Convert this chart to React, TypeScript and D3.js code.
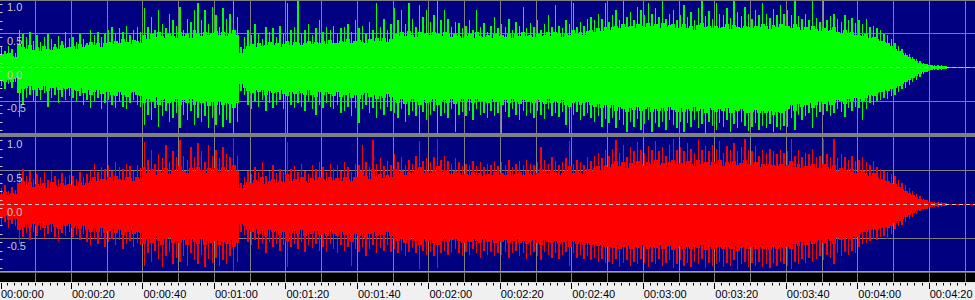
import React from 'react';
import * as d3 from 'd3';

// Amplitudes in percent of full scale, one value per second of audio.
// Peak (thin spike) extremes per second
const leftPeakHi = [
  30, 25, 32, 28, 22, 55, 50, 45, 52, 40,
  48, 38, 45, 50, 42, 35, 47, 40, 52, 44,
  45, 38, 50, 42, 36, 55, 48, 52, 45, 50,
  55, 60, 50, 58, 52, 62, 48, 56, 60, 52,
  88, 60, 75, 55, 85, 65, 58, 80, 70, 62,
  90, 55, 72, 68, 85, 95, 70, 85, 65, 90,
  78, 60, 88, 72, 80, 98, 75, 30, 45, 55,
  48, 65, 50, 42, 60, 52, 58, 45, 62, 50,
  96, 55, 60, 98, 50, 55, 65, 48, 58, 70,
  52, 60, 55, 62, 50, 58, 60, 65, 52, 70,
  58, 62, 50, 68, 55, 95, 60, 72, 55, 65,
  88, 70, 85, 65, 95, 72, 60, 92, 75, 85,
  68, 78, 98, 70, 85, 72, 60, 68, 66, 58,
  62, 70, 55, 85, 60, 66, 52, 62, 75, 58,
  64, 60, 72, 56, 68, 62, 90, 58, 66, 60,
  70, 55, 64, 78, 60, 92, 62, 58, 70, 64,
  95, 60, 68, 62, 72, 75, 70, 80, 72, 95,
  68, 78, 85, 70, 98, 75, 82, 70, 90, 85,
  78, 95, 80, 88, 75, 98, 72, 80, 85, 70,
  78, 92, 75, 82, 70, 88, 98, 76, 84, 72,
  95, 80, 78, 88, 74, 98, 82, 76, 90, 80,
  72, 85, 78, 95, 80, 74, 86, 78, 92, 80,
  85, 78, 98, 76, 72, 80, 70, 98, 74, 68,
  98, 70, 76, 80, 72, 68, 78, 70, 74, 66,
  70, 65, 72, 60, 62, 58, 55, 50, 48, 42,
  36, 32, 28, 22, 20, 16, 12, 10, 7, 5,
  4, 3, 3, 3, 2,
];
const leftPeakLo = [
  -28, -32, -25, -30, -22, -73, -55, -45, -40, -50,
  -42, -48, -38, -58, -45, -40, -52, -44, -48, -42,
  -45, -50, -42, -55, -48, -60, -50, -45, -62, -52,
  -48, -55, -60, -50, -58, -62, -52, -48, -55, -58,
  -85, -70, -78, -60, -88, -72, -65, -80, -75, -68,
  -90, -70, -78, -65, -85, -75, -80, -72, -90, -75,
  -85, -70, -88, -78, -82, -98, -80, -35, -40, -55,
  -62, -50, -58, -48, -65, -52, -60, -55, -48, -62,
  -97, -55, -60, -52, -58, -65, -50, -62, -70, -55,
  -60, -52, -58, -62, -55, -68, -65, -58, -72, -60,
  -82, -62, -55, -68, -60, -75, -62, -70, -58, -65,
  -68, -75, -62, -80, -70, -65, -72, -97, -66, -78,
  -70, -64, -97, -72, -68, -75, -62, -96, -70, -66,
  -72, -65, -78, -62, -70, -68, -75, -64, -72, -68,
  -97, -66, -74, -62, -70, -78, -65, -72, -68, -75,
  -64, -70, -76, -62, -72, -68, -74, -66, -85, -97,
  -70, -66, -78, -72, -68, -75, -80, -72, -88, -76,
  -82, -75, -90, -78, -85, -95, -80, -88, -76, -92,
  -84, -78, -96, -82, -88, -80, -92, -78, -85, -90,
  -80, -95, -82, -88, -78, -90, -84, -97, -80, -86,
  -92, -82, -88, -78, -96, -84, -90, -80, -86, -94,
  -88, -82, -92, -86, -90, -84, -96, -88, -92, -86,
  -88, -75, -92, -70, -78, -72, -68, -90, -74, -66,
  -70, -64, -72, -68, -62, -66, -74, -60, -64, -58,
  -60, -78, -62, -52, -55, -50, -48, -45, -46, -42,
  -40, -36, -32, -30, -26, -22, -18, -14, -10, -7,
  -4, -3.5, -3, -3, -2,
];
const rightPeakHi = [
  25, 28, 20, 26, 22, 48, 52, 42, 50, 38,
  45, 40, 48, 36, 50, 42, 38, 46, 40, 44,
  42, 38, 48, 40, 45, 50, 60, 48, 55, 52,
  58, 50, 62, 55, 52, 60, 56, 50, 58, 54,
  92, 65, 80, 60, 75, 68, 88, 62, 78, 70,
  95, 72, 65, 85, 70, 90, 78, 62, 88, 72,
  80, 68, 85, 74, 70, 98, 72, 32, 40, 50,
  45, 55, 48, 62, 42, 50, 58, 46, 52, 48,
  92, 52, 56, 48, 60, 50, 45, 58, 52, 62,
  55, 48, 60, 52, 58, 50, 62, 55, 48, 60,
  58, 88, 62, 55, 95, 60, 68, 56, 64, 58,
  75, 62, 70, 58, 66, 60, 72, 94, 64, 68,
  62, 70, 96, 66, 72, 64, 60, 68, 62, 56,
  60, 58, 64, 56, 62, 55, 60, 58, 64, 56,
  62, 58, 66, 55, 60, 64, 58, 66, 60, 58,
  62, 84, 66, 60, 70, 64, 58, 62, 68, 94,
  60, 66, 62, 58, 70, 64, 72, 76, 68, 80,
  72, 82, 95, 76, 88, 70, 84, 78, 92, 80,
  76, 86, 80, 94, 78, 84, 72, 88, 96, 80,
  84, 78, 90, 82, 76, 95, 80, 86, 78, 88,
  82, 94, 76, 86, 80, 90, 78, 84, 96, 80,
  78, 86, 72, 80, 76, 82, 78, 74, 80, 76,
  78, 96, 72, 80, 70, 76, 74, 82, 70, 72,
  96, 74, 70, 97, 68, 74, 70, 66, 72, 64,
  66, 70, 62, 58, 64, 55, 52, 50, 48, 45,
  42, 36, 32, 28, 24, 20, 15, 12, 8, 6,
  4, 4, 3, 3, 2,
];
const rightPeakLo = [
  -30, -25, -34, -28, -32, -58, -48, -42, -52, -40,
  -46, -38, -50, -44, -40, -48, -53, -42, -46, -40,
  -48, -45, -52, -44, -55, -60, -50, -58, -48, -62,
  -55, -50, -60, -52, -65, -58, -54, -62, -56, -60,
  -90, -72, -85, -68, -80, -92, -75, -70, -88, -78,
  -84, -76, -90, -72, -82, -88, -74, -92, -80, -86,
  -78, -90, -82, -88, -76, -98, -84, -40, -45, -55,
  -60, -52, -65, -58, -72, -55, -62, -58, -68, -60,
  -92, -62, -58, -66, -55, -70, -60, -64, -58, -68,
  -62, -70, -58, -66, -72, -60, -68, -62, -90, -65,
  -70, -62, -75, -66, -60, -72, -64, -68, -60, -70,
  -66, -72, -68, -75, -70, -64, -72, -95, -68, -74,
  -70, -76, -94, -72, -68, -74, -70, -66, -72, -76,
  -70, -74, -66, -72, -78, -68, -74, -70, -76, -72,
  -74, -70, -78, -72, -68, -76, -72, -80, -74, -70,
  -76, -82, -70, -74, -78, -72, -80, -74, -70, -90,
  -72, -78, -74, -80, -76, -82, -78, -84, -80, -86,
  -84, -88, -80, -92, -86, -82, -90, -84, -88, -80,
  -86, -92, -84, -88, -80, -90, -86, -82, -94, -88,
  -82, -90, -86, -92, -84, -88, -80, -94, -86, -90,
  -88, -84, -92, -86, -90, -82, -96, -88, -84, -92,
  -86, -90, -84, -92, -88, -94, -86, -90, -84, -88,
  -90, -95, -84, -88, -80, -86, -78, -84, -80, -76,
  -82, -74, -78, -88, -72, -76, -70, -74, -68, -72,
  -62, -58, -56, -54, -50, -52, -48, -46, -50, -44,
  -36, -32, -30, -26, -22, -18, -14, -10, -8, -6,
  -4, -4, -3, -3, -2,
];

// Dense body of the waveform per second
const leftBodyHi = [
  18, 20, 22, 17, 15, 35, 30, 28, 34, 26,
  30, 25, 32, 28, 26, 30, 27, 33, 29, 31,
  32, 28, 35, 30, 33, 38, 34, 36, 31, 37,
  38, 35, 40, 36, 42, 38, 35, 41, 39, 36,
  48, 42, 50, 45, 52, 46, 44, 50, 47, 43,
  52, 46, 50, 44, 55, 50, 47, 53, 48, 51,
  54, 48, 52, 46, 50, 56, 48, 22, 28, 32,
  35, 30, 36, 32, 34, 38, 33, 36, 31, 35,
  40, 34, 38, 36, 33, 37, 40, 35, 38, 36,
  39, 35, 41, 37, 36, 40, 38, 42, 37, 40,
  41, 38, 36, 42, 39, 44, 40, 43, 38, 42,
  50, 46, 52, 47, 54, 48, 45, 52, 49, 51,
  48, 52, 50, 46, 53, 49, 45, 50, 47, 44,
  46, 50, 44, 52, 47, 45, 48, 43, 50, 46,
  48, 45, 50, 44, 49, 47, 52, 46, 48, 45,
  50, 46, 48, 52, 47, 53, 49, 45, 50, 48,
  55, 50, 52, 48, 54, 56, 52, 58, 54, 60,
  56, 60, 62, 58, 64, 60, 62, 58, 65, 62,
  60, 66, 62, 64, 58, 66, 60, 63, 65, 58,
  60, 64, 58, 62, 56, 63, 66, 60, 62, 58,
  62, 58, 60, 64, 57, 63, 60, 58, 62, 60,
  58, 62, 60, 64, 61, 57, 63, 60, 65, 61,
  62, 58, 64, 60, 56, 60, 55, 62, 57, 54,
  58, 54, 56, 60, 53, 50, 55, 51, 52, 48,
  48, 46, 50, 44, 45, 42, 40, 38, 36, 32,
  28, 25, 22, 18, 15, 12, 9, 7, 5, 4,
  3, 2.5, 2.5, 2, 1.5,
];
const leftBodyLo = [
  -20, -22, -18, -21, -16, -38, -32, -30, -28, -34,
  -30, -33, -28, -35, -31, -29, -34, -30, -32, -30,
  -33, -35, -31, -38, -34, -40, -36, -33, -39, -36,
  -36, -40, -42, -37, -41, -44, -38, -36, -40, -42,
  -52, -46, -50, -44, -55, -48, -46, -52, -50, -47,
  -55, -48, -52, -47, -56, -50, -53, -49, -57, -51,
  -56, -50, -55, -52, -54, -60, -52, -25, -30, -35,
  -38, -34, -37, -33, -40, -35, -38, -36, -34, -39,
  -42, -36, -39, -35, -38, -41, -34, -40, -43, -37,
  -40, -36, -39, -42, -37, -44, -41, -38, -45, -40,
  -46, -41, -38, -44, -40, -47, -42, -45, -39, -43,
  -48, -52, -46, -54, -49, -47, -51, -56, -48, -53,
  -50, -47, -55, -50, -48, -52, -46, -54, -50, -47,
  -51, -47, -53, -46, -50, -49, -52, -47, -51, -49,
  -55, -48, -52, -46, -50, -54, -48, -51, -49, -53,
  -48, -51, -54, -47, -52, -50, -53, -48, -56, -58,
  -52, -50, -56, -53, -51, -55, -58, -54, -60, -56,
  -60, -56, -64, -58, -62, -66, -60, -63, -58, -65,
  -62, -58, -66, -61, -64, -60, -65, -59, -63, -66,
  -60, -66, -62, -64, -59, -65, -62, -67, -60, -63,
  -66, -62, -64, -60, -67, -63, -65, -61, -64, -68,
  -66, -63, -68, -65, -67, -64, -70, -66, -68, -65,
  -62, -56, -64, -54, -58, -55, -52, -60, -55, -50,
  -54, -50, -55, -52, -48, -50, -54, -47, -49, -45,
  -46, -50, -45, -40, -42, -38, -36, -34, -35, -32,
  -30, -27, -24, -22, -19, -16, -13, -10, -7, -5,
  -3, -2.5, -2.5, -2, -1.5,
];
const rightBodyHi = [
  16, 18, 14, 17, 15, 32, 34, 28, 33, 26,
  30, 27, 32, 25, 33, 29, 26, 31, 28, 30,
  29, 27, 33, 28, 31, 35, 40, 34, 38, 36,
  40, 35, 42, 38, 36, 41, 39, 35, 40, 38,
  55, 46, 52, 44, 50, 47, 54, 45, 51, 48,
  56, 50, 47, 54, 49, 55, 51, 46, 54, 50,
  53, 48, 55, 50, 49, 58, 50, 24, 28, 33,
  31, 36, 33, 40, 30, 34, 38, 32, 35, 33,
  45, 35, 38, 33, 40, 35, 32, 39, 36, 41,
  38, 34, 40, 36, 39, 35, 41, 38, 34, 40,
  40, 50, 42, 38, 52, 41, 45, 39, 43, 40,
  52, 45, 50, 44, 48, 45, 51, 55, 47, 49,
  46, 50, 56, 48, 51, 47, 45, 49, 46, 43,
  45, 44, 48, 43, 46, 42, 45, 44, 48, 43,
  46, 44, 49, 42, 45, 48, 44, 49, 45, 44,
  46, 52, 49, 45, 51, 48, 44, 46, 50, 56,
  46, 50, 47, 45, 52, 49, 53, 56, 51, 58,
  55, 60, 64, 57, 62, 54, 61, 58, 64, 59,
  57, 62, 59, 65, 58, 61, 55, 63, 66, 59,
  61, 58, 64, 60, 57, 66, 59, 62, 58, 63,
  60, 65, 57, 62, 59, 64, 58, 61, 66, 59,
  58, 62, 55, 59, 57, 60, 58, 56, 59, 57,
  58, 64, 55, 59, 53, 57, 56, 60, 53, 54,
  60, 55, 52, 58, 50, 54, 51, 49, 52, 47,
  48, 50, 45, 42, 46, 40, 38, 36, 35, 32,
  30, 26, 23, 20, 17, 14, 11, 8, 6, 4,
  3, 2.5, 2.5, 2, 1.5,
];
const rightBodyLo = [
  -20, -17, -23, -19, -22, -38, -33, -29, -35, -28,
  -32, -27, -34, -30, -28, -33, -36, -29, -32, -28,
  -34, -31, -36, -31, -38, -41, -35, -40, -34, -42,
  -39, -36, -42, -37, -45, -41, -38, -43, -40, -42,
  -58, -50, -56, -48, -54, -60, -51, -49, -57, -53,
  -56, -52, -59, -50, -55, -58, -51, -60, -54, -57,
  -53, -59, -55, -58, -52, -62, -56, -28, -31, -37,
  -40, -36, -43, -39, -47, -37, -41, -39, -45, -40,
  -55, -42, -39, -44, -37, -46, -40, -43, -39, -45,
  -42, -46, -39, -44, -47, -40, -45, -42, -55, -43,
  -46, -42, -49, -44, -40, -47, -43, -45, -40, -46,
  -50, -54, -51, -56, -52, -48, -54, -60, -51, -55,
  -52, -56, -60, -54, -51, -55, -52, -50, -54, -56,
  -52, -55, -50, -54, -57, -51, -55, -52, -56, -54,
  -55, -52, -57, -54, -51, -56, -54, -58, -55, -52,
  -56, -59, -52, -55, -57, -54, -58, -55, -52, -62,
  -54, -58, -55, -59, -56, -60, -58, -61, -59, -62,
  -62, -64, -60, -66, -63, -61, -65, -62, -64, -60,
  -63, -66, -62, -64, -60, -65, -63, -61, -67, -64,
  -61, -65, -63, -66, -62, -64, -60, -67, -63, -65,
  -64, -62, -66, -63, -65, -61, -68, -64, -62, -66,
  -63, -65, -62, -66, -64, -67, -63, -65, -62, -64,
  -62, -66, -58, -61, -55, -59, -54, -58, -55, -52,
  -56, -51, -53, -58, -49, -52, -48, -50, -46, -48,
  -44, -41, -40, -38, -36, -37, -34, -33, -35, -31,
  -27, -24, -22, -19, -16, -13, -10, -8, -6, -4,
  -3, -2.5, -2.5, -2, -1.5,
];

// Axis ticks
const timeTickSeconds = [0, 20, 40, 60, 80, 100, 120, 140, 160, 180, 200, 220, 240, 260];
const timeTickLabels = [
  '00:00:00', '00:00:20', '00:00:40', '00:01:00', '00:01:20', '00:01:40', '00:02:00',
  '00:02:20', '00:02:40', '00:03:00', '00:03:20', '00:03:40', '00:04:00', '00:04:20',
];
const ampTickValues = [100, 50, 0, -50];
const ampTickLabels = ['1.0', '0.5', '0.0', '-0.5'];

const W = 975;
const H = 300;
const NAVY = '#000080';
const GRID = '#808080';
const LABEL = '#c8c8c8';

const x = d3.scaleLinear().domain([0, 270]).range([-0.5, 964.5]);
const yTop = d3.scaleLinear().domain([-100, 100]).range([135, 0]);
const yBot = d3.scaleLinear().domain([-100, 100]).range([272.5, 136.5]);

type Scale = d3.ScaleLinear<number, number>;

function Channel(props: {
  hi: number[]; lo: number[]; bodyHi: number[]; bodyLo: number[];
  y: Scale; color: string; clip: string;
}) {
  const { hi, lo, bodyHi, bodyLo, y, color, clip } = props;
  const bw = x(1) - x(0);
  return (
    <g clipPath={`url(#${clip})`} shapeRendering="crispEdges" fill={color}>
      {bodyHi.map((h, i) => (
        <rect key={'b' + i} x={x(i)} width={bw + 0.4} y={y(h)} height={Math.max(1, y(bodyLo[i]) - y(h))} />
      ))}
      {hi.map((h, i) => (
        <rect key={'p' + i} x={x(i) + 1.2} width={1.4} y={y(h)} height={Math.max(1, y(lo[i]) - y(h))} />
      ))}
    </g>
  );
}

function Panel(props: { y: Scale; top: number; bottom: number; color: string; children: React.ReactNode }) {
  const { y, top, bottom, color, children } = props;
  const gridSeconds = d3.range(10, 271, 10);
  const minor = d3.range(-15, 16, 2).map((k) => (k * 100) / 16);
  const cy = Math.floor(y(0)) + 0.5;
  return (
    <g>
      <rect x={0} y={top} width={W} height={bottom - top} fill={NAVY} />
      {gridSeconds.map((s) => (
        <line key={s} x1={Math.round(x(s)) + 0.5} x2={Math.round(x(s)) + 0.5} y1={top} y2={bottom} stroke={GRID} />
      ))}
      {[50, -50].map((v) => (
        <line key={v} x1={0} x2={W} y1={Math.floor(y(v)) + 0.5} y2={Math.floor(y(v)) + 0.5} stroke={GRID} />
      ))}
      <line x1={0} x2={W} y1={cy} y2={cy} stroke={color} />
      {children}
      <line x1={0} x2={W} y1={cy} y2={cy} stroke={LABEL} strokeDasharray="4,3" />
      {minor.map((v) => (
        <line key={v} x1={0} x2={2.5} y1={Math.floor(y(v)) + 0.5} y2={Math.floor(y(v)) + 0.5} stroke={LABEL} />
      ))}
      {ampTickValues.map((v, i) => (
        <text
          key={v}
          x={7}
          y={y(v) + 11}
          fill={LABEL}
          fontFamily="'Liberation Sans', Arial, sans-serif"
          fontSize={11}
        >
          {ampTickLabels[i]}
        </text>
      ))}
    </g>
  );
}

export default function App() {
  const minorTimes = d3.range(0, 271, 2).filter((t) => t % 20 !== 0);
  const gridSeconds = d3.range(10, 271, 10);
  return (
    <svg
      width={W}
      height={H}
      viewBox={`0 0 ${W} ${H}`}
      style={{ position: 'absolute', left: 0, top: 0, display: 'block' }}
    >
      <defs>
        <clipPath id="clipTop">
          <rect x={0} y={1} width={W} height={132} />
        </clipPath>
        <clipPath id="clipBot">
          <rect x={0} y={137} width={W} height={134} />
        </clipPath>
      </defs>
      <rect x={0} y={0} width={W} height={H} fill="#f0f0f0" />
      <Panel y={yTop} top={0} bottom={133} color="#00ff00">
        <Channel hi={leftPeakHi} lo={leftPeakLo} bodyHi={leftBodyHi} bodyLo={leftBodyLo} y={yTop} color="#00ff00" clip="clipTop" />
      </Panel>
      <line x1={0} x2={W} y1={0.5} y2={0.5} stroke={GRID} />
      <rect x={0} y={133} width={W} height={4} fill={GRID} />
      <Panel y={yBot} top={137} bottom={271} color="#ff0000">
        <Channel hi={rightPeakHi} lo={rightPeakLo} bodyHi={rightBodyHi} bodyLo={rightBodyLo} y={yBot} color="#ff0000" clip="clipBot" />
      </Panel>
      <rect x={0} y={271} width={W} height={1.5} fill="#a0a0a0" />
      <rect x={0} y={272.5} width={W} height={9.5} fill="#000000" />
      {gridSeconds.map((s) => (
        <line key={s} x1={Math.round(x(s)) + 0.5} x2={Math.round(x(s)) + 0.5} y1={272.5} y2={282} stroke={GRID} />
      ))}
      <line x1={0} x2={W} y1={282.5} y2={282.5} stroke="#e0e0e0" />
      {minorTimes.map((t) => (
        <line key={t} x1={Math.round(x(t)) + 0.5} x2={Math.round(x(t)) + 0.5} y1={283} y2={285.5} stroke="#000" />
      ))}
      {timeTickSeconds.map((t, i) => (
        <g key={t}>
          <line x1={Math.max(1, Math.round(x(t))) + 0.5} x2={Math.max(1, Math.round(x(t))) + 0.5} y1={283} y2={289} stroke="#000" />
          <text
            x={Math.max(0, x(t)) + 1}
            y={297.5}
            fill="#000010"
            fontFamily="'Liberation Sans', Arial, sans-serif"
            fontSize={11}
          >
            {timeTickLabels[i]}
          </text>
        </g>
      ))}
    </svg>
  );
}
